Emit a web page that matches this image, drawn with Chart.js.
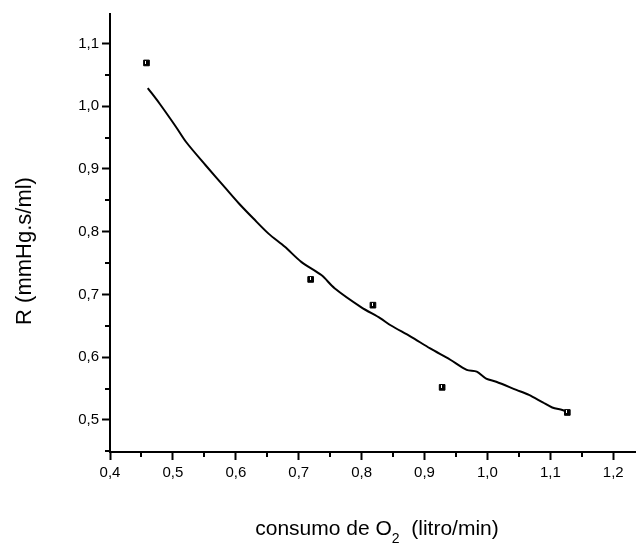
<!DOCTYPE html>
<html>
<head>
<meta charset="utf-8">
<style>
    html, body { margin: 0; padding: 0; background: #fff; }
    #wrap { width: 640px; height: 543px; position: relative; }
</style>
<script src="https://cdn.jsdelivr.net/npm/chart.js"></script>
</head>
<body>
<div id="wrap"><canvas id="resistChart"></canvas></div>
<script>
// measured points (consumo de O2 vs R)
const obsX = [0.458, 0.719, 0.818, 0.928, 1.127];
const obsY = [1.069, 0.724, 0.683, 0.552, 0.512];

// fitted curve
const fitX = [0.460, 0.479, 0.505, 0.521, 0.552, 0.584, 0.605, 0.628, 0.652, 0.678, 0.704, 0.736, 0.757, 0.799, 0.830,
    0.846, 0.878, 0.909, 0.941, 0.967, 0.983, 0.998, 1.014, 1.046, 1.066, 1.088, 1.103, 1.119, 1.124];
const fitY = [1.029, 1.004, 0.967, 0.943, 0.906, 0.869, 0.845, 0.821, 0.797, 0.776, 0.752, 0.731, 0.710, 0.680, 0.662,
    0.651, 0.633, 0.614, 0.596, 0.580, 0.577, 0.566, 0.561, 0.548, 0.540, 0.528, 0.520, 0.516, 0.514];

const xRange = [0.4, 1.2346];
const yRange = [0.449, 1.147];
const tickStep = 0.1;

const yTitle = 'R (mmHg.s/ml)';
const xTitleParts = ['consumo de O', '2', '  (litro/min)'];

const FONT = '"Liberation Sans", Arial, sans-serif';

function fmt(v) {
    return v.toFixed(1).replace('.', ',');
}

// Origin-style minor ticks + axis titles
const extrasPlugin = {
    id: 'extras',
    afterDraw(chart) {
        const ctx = chart.ctx;
        const area = chart.chartArea;
        const xs = chart.scales.x;
        const ys = chart.scales.y;

        ctx.save();
        ctx.strokeStyle = '#000';
        ctx.lineWidth = 2;

        [xs, ys].forEach(scale => {
            const vals = scale.ticks.map(t => t.value);
            const minors = [];
            for (let i = 0; i < vals.length - 1; i++) minors.push((vals[i] + vals[i + 1]) / 2);
            minors.push(vals[0] - tickStep / 2, vals[vals.length - 1] + tickStep / 2);
            minors.forEach(v => {
                if (v < scale.min || v > scale.max) return;
                const p = Math.round(scale.getPixelForValue(v));
                ctx.beginPath();
                if (scale === xs) {
                    ctx.moveTo(p, area.bottom);
                    ctx.lineTo(p, area.bottom + 5);
                } else {
                    ctx.moveTo(area.left, p);
                    ctx.lineTo(area.left - 5, p);
                }
                ctx.stroke();
            });
        });

        // little white notch inside each marker, like the original plot
        const meta = chart.getDatasetMeta(0);
        ctx.fillStyle = '#fff';
        meta.data.forEach(pt => {
            ctx.fillRect(Math.round(pt.x) - 1, Math.round(pt.y) - 2, 1, 3);
        });

        ctx.fillStyle = '#000';

        // y title
        ctx.save();
        ctx.translate(31, 251);
        ctx.rotate(-Math.PI / 2);
        ctx.font = '22px ' + FONT;
        ctx.textAlign = 'center';
        ctx.textBaseline = 'alphabetic';
        ctx.fillText(yTitle, 0, 0);
        ctx.restore();

        // x title with subscript
        const bigFont = '21px ' + FONT;
        const smallFont = '14px ' + FONT;
        ctx.font = bigFont;
        const w0 = ctx.measureText(xTitleParts[0]).width;
        const w2 = ctx.measureText(xTitleParts[2]).width;
        ctx.font = smallFont;
        const w1 = ctx.measureText(xTitleParts[1]).width;
        const total = w0 + w1 + w2;
        let x = 377 - total / 2;
        const base = 535;
        ctx.textAlign = 'left';
        ctx.textBaseline = 'alphabetic';
        ctx.font = bigFont;
        ctx.fillText(xTitleParts[0], x, base);
        x += w0;
        ctx.font = smallFont;
        ctx.fillText(xTitleParts[1], x, base + 8);
        x += w1;
        ctx.font = bigFont;
        ctx.fillText(xTitleParts[2], x, base);

        ctx.restore();
    }
};

const ctx = document.getElementById('resistChart');

new Chart(ctx, {
    type: 'scatter',
    data: {
        datasets: [
            {
                label: 'medidas',
                data: obsX.map((x, i) => ({ x: x, y: obsY[i] })),
                pointStyle: 'rect',
                pointRadius: 4,
                backgroundColor: '#000',
                borderColor: '#000',
                borderWidth: 1,
                showLine: false
            },
            {
                label: 'ajuste',
                data: fitX.map((x, i) => ({ x: x, y: fitY[i] })),
                showLine: true,
                borderColor: '#000',
                borderWidth: 2,
                pointRadius: 0,
                tension: 0.3,
                fill: false
            }
        ]
    },
    options: {
        responsive: true,
        maintainAspectRatio: false,
        animation: false,
        layout: {
            padding: { top: 14, left: 0, right: 0, bottom: 0 }
        },
        plugins: {
            legend: { display: false },
            tooltip: { enabled: false }
        },
        scales: {
            x: {
                type: 'linear',
                min: xRange[0],
                max: xRange[1],
                afterFit: scale => { scale.height = 91; },
                border: { display: true, color: '#000', width: 2 },
                grid: {
                    drawOnChartArea: false,
                    drawTicks: true,
                    tickLength: 8,
                    tickWidth: 2,
                    tickColor: '#000'
                },
                ticks: {
                    stepSize: tickStep,
                    includeBounds: false,
                    color: '#000',
                    padding: 4,
                    maxRotation: 0,
                    font: { family: FONT, size: 15 },
                    callback: v => fmt(v)
                }
            },
            y: {
                type: 'linear',
                min: yRange[0],
                max: yRange[1],
                afterFit: scale => { scale.width = 110; },
                border: { display: true, color: '#000', width: 2 },
                grid: {
                    drawOnChartArea: false,
                    drawTicks: true,
                    tickLength: 8,
                    tickWidth: 2,
                    tickColor: '#000'
                },
                ticks: {
                    stepSize: tickStep,
                    includeBounds: false,
                    color: '#000',
                    padding: 3,
                    font: { family: FONT, size: 15 },
                    callback: v => fmt(v)
                }
            }
        }
    },
    plugins: [extrasPlugin]
});
</script>
</body>
</html>
